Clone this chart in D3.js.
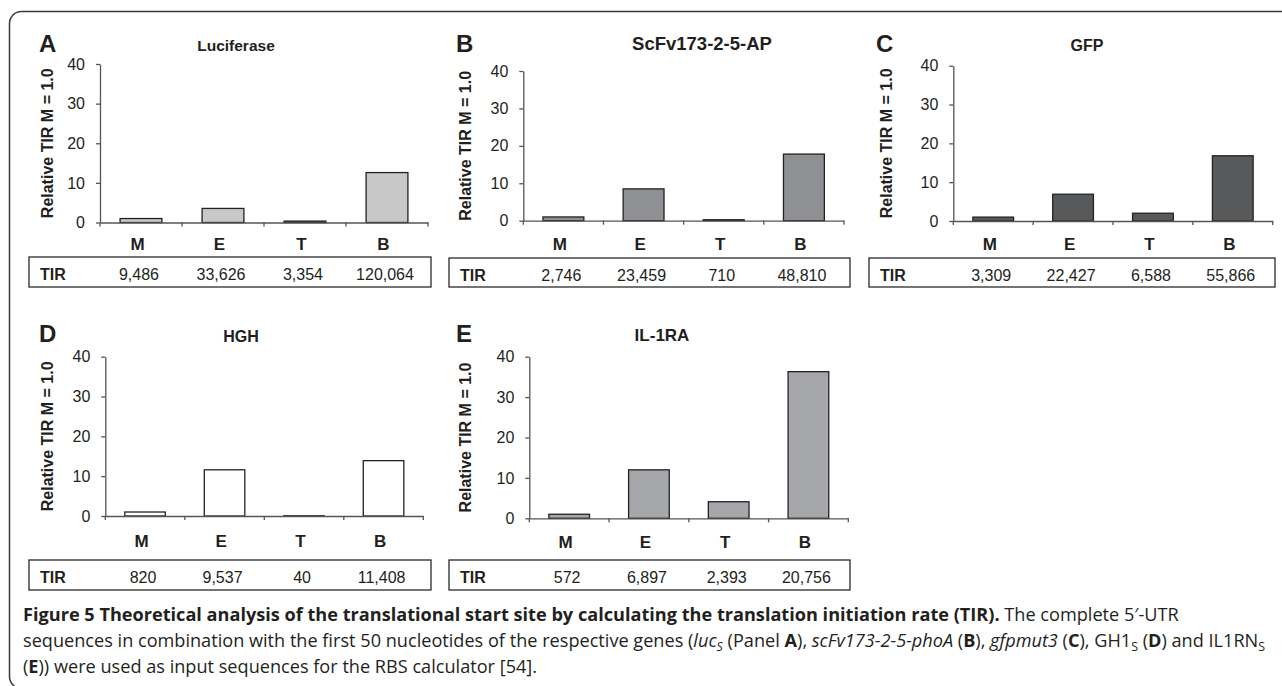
<!DOCTYPE html>
<html><head><meta charset="utf-8">
<script src="https://cdn.jsdelivr.net/npm/d3@7"></script>
<style>html,body{margin:0;padding:0;background:#fff;} svg{display:block;}</style>
</head><body>
<svg id="c" width="1282" height="686"></svg>
<script>
// ---------------- data ----------------
const categories = ["M", "E", "T", "B"];
const panelLetters = ["A", "B", "C", "D", "E"];
const panelTitles = ["Luciferase", "ScFv173-2-5-AP", "GFP", "HGH", "IL-1RA"];
const yTicks = [0, 10, 20, 30, 40];
const yTitle = "Relative TIR M = 1.0";
const tableLabel = "TIR";
// relative TIR (M = 1.0)
const relA = [1.0, 3.55, 0.35, 12.6];
const relB = [1.0, 8.5, 0.26, 17.8];
const relC = [1.0, 6.9, 2.0, 16.8];
const relD = [1.0, 11.6, 0.05, 13.9];
const relE = [1.0, 12.0, 4.1, 36.3];
// absolute TIR values from the tables
const tirA = [9486, 33626, 3354, 120064];
const tirB = [2746, 23459, 710, 48810];
const tirC = [3309, 22427, 6588, 55866];
const tirD = [820, 9537, 40, 11408];
const tirE = [572, 6897, 2393, 20756];

const relSeries = [relA, relB, relC, relD, relE];
const tirSeries = [tirA, tirB, tirC, tirD, tirE];

// ---------------- layout / style ----------------
const layout = [
  {ax:100,   top:64,    base:222.5, right:428,    letterX:39,  letterY:52,  titleX:236,  titleY:51,  titleSize:15.5, ytX:47,  catY:250,   tb:[29,431,257,287],  fill:"#c8c8c8"},
  {ax:523.3, top:71,    base:220.7, right:844,    letterX:456, letterY:52,  titleX:702,  titleY:50,  titleSize:18.5, ytX:465, catY:250,   tb:[449,850,258,287], fill:"#8f9093"},
  {ax:953.3, top:65.7,  base:221,   right:1272.7, letterX:876, letterY:52,  titleX:1087, titleY:51,  titleSize:16,   ytX:886, catY:250,   tb:[869,1275,258,287],fill:"#58595b"},
  {ax:105.3, top:356.7, base:516,   right:423.3,  letterX:39,  letterY:342, titleX:241,  titleY:342, titleSize:16,   ytX:47,  catY:546.5, tb:[29,431,560,590],  fill:"#ffffff"},
  {ax:529.3, top:356.7, base:518.3, right:848.3,  letterX:456, letterY:342, titleX:662,  titleY:341, titleSize:17,   ytX:465, catY:548,   tb:[449,850,560,590], fill:"#a6a7aa"}
];
const FONT = "'Liberation Sans', Arial, Helvetica, sans-serif";
const INK = "#231f20";
const AXIS = "#555";

const svg = d3.select("#c");

// outer frame
svg.append("rect").attr("x", 9.5).attr("y", 11.5).attr("width", 1320).attr("height", 677)
  .attr("rx", 12).attr("ry", 12).attr("fill", "none").attr("stroke", "#3a3a3a").attr("stroke-width", 1.5);

const fmt = d3.format(",");

layout.forEach((L, i) => {
  const g = svg.append("g");
  const x = d3.scaleBand().domain(categories).range([L.ax, L.right]).paddingInner(0.49).paddingOuter(0.245);
  const y = d3.scaleLinear().domain([0, 40]).range([L.base, L.top]);

  // bars
  g.selectAll("rect.bar").data(categories.map((c, k) => ({c, v: relSeries[i][k]})))
    .join("rect").attr("class", "bar")
    .attr("x", d => x(d.c)).attr("width", x.bandwidth())
    .attr("y", d => y(d.v)).attr("height", d => y(0) - y(d.v))
    .attr("fill", L.fill).attr("stroke", "#222").attr("stroke-width", 1.3);

  // y axis
  const ya = g.append("g").attr("transform", `translate(${L.ax},0)`)
    .call(d3.axisLeft(y).tickValues(yTicks).tickSize(4).tickPadding(11).tickSizeOuter(0));
  ya.select(".domain").attr("stroke", AXIS).attr("stroke-width", 1.3);
  ya.selectAll(".tick line").attr("stroke", AXIS).attr("stroke-width", 1.3);
  ya.selectAll(".tick text").attr("font-family", FONT).attr("font-size", 16).attr("fill", INK);

  // x axis: baseline + boundary ticks
  const xa = g.append("g").attr("transform", `translate(0,${L.base})`)
    .call(d3.axisBottom(x).tickSize(0).tickFormat(""));
  xa.select(".domain").attr("stroke", AXIS).attr("stroke-width", 1.3);
  const step = x.step();
  const gap = step - x.bandwidth();
  const bounds = categories.map(c => x(c) - gap / 2).concat([x(categories[categories.length - 1]) + x.bandwidth() + gap / 2]);
  xa.selectAll("line.bt").data(bounds).join("line").attr("class", "bt")
    .attr("x1", d => d).attr("x2", d => d).attr("y1", 0).attr("y2", 4)
    .attr("stroke", AXIS).attr("stroke-width", 1.3);

  // category labels
  g.selectAll("text.cat").data(categories).join("text").attr("class", "cat")
    .attr("x", d => x(d) + x.bandwidth() / 2 - 3.5).attr("y", L.catY)
    .attr("text-anchor", "middle").attr("font-family", FONT).attr("font-weight", "bold")
    .attr("font-size", 17).attr("fill", INK).text(d => d);

  // y title
  g.append("text").attr("transform", `translate(${L.ytX},${(L.top + L.base) / 2}) rotate(-90)`)
    .attr("text-anchor", "middle").attr("dominant-baseline", "central")
    .attr("font-family", FONT).attr("font-weight", "bold").attr("font-size", 16).attr("fill", INK).text(yTitle);

  // panel letter & title
  g.append("text").attr("x", L.letterX).attr("y", L.letterY).attr("font-family", FONT)
    .attr("font-weight", "bold").attr("font-size", 24).attr("fill", INK).text(panelLetters[i]);
  g.append("text").attr("x", L.titleX).attr("y", L.titleY).attr("text-anchor", "middle").attr("font-family", FONT)
    .attr("font-weight", "bold").attr("font-size", L.titleSize).attr("fill", INK).text(panelTitles[i]);

  // table
  const [tx0, tx1, ty0, ty1] = L.tb;
  g.append("rect").attr("x", tx0).attr("y", ty0).attr("width", tx1 - tx0).attr("height", ty1 - ty0)
    .attr("fill", "none").attr("stroke", "#2a2a2a").attr("stroke-width", 1.3);
  const tyText = ty0 + 23;
  g.append("text").attr("x", tx0 + 11).attr("y", tyText).attr("font-family", FONT).attr("font-weight", "bold")
    .attr("font-size", 16).attr("fill", INK).text(tableLabel);
  g.selectAll("text.tv").data(categories.map((c, k) => ({c, v: tirSeries[i][k]}))).join("text").attr("class", "tv")
    .attr("x", d => x(d.c) + x.bandwidth() / 2 - 2).attr("y", tyText).attr("text-anchor", "middle")
    .attr("font-family", FONT).attr("font-size", 16).attr("fill", INK).text(d => fmt(d.v));
});

// ---------------- caption ----------------
const capLines = [
  [{t:"Figure 5 Theoretical analysis of the translational start site by calculating the translation initiation rate (TIR).", b:1},
   {t:" The complete 5\u2032-UTR"}],
  [{t:"sequences in combination with the first 50 nucleotides of the respective genes ("},
   {t:"luc", i:1}, {t:"S", i:1, sub:1}, {t:" (Panel "}, {t:"A", b:1}, {t:"), "},
   {t:"scFv173-2-5-phoA", i:1}, {t:" ("}, {t:"B", b:1}, {t:"), "},
   {t:"gfpmut3", i:1}, {t:" ("}, {t:"C", b:1}, {t:"), GH1"}, {t:"S", sub:1}, {t:" ("}, {t:"D", b:1},
   {t:") and IL1RN"}, {t:"S", sub:1}],
  [{t:"("}, {t:"E", b:1}, {t:")) were used as input sequences for the RBS calculator [54]."}]
];
const capY = [621, 647, 673];
const CAPFONT = "'Open Sans', 'Noto Sans', sans-serif";
const capTexts = capLines.map((parts, li) => {
  const t = svg.append("text").attr("font-family", CAPFONT).attr("font-size", 17.5).attr("fill", INK);
  let shifted = false;
  parts.forEach(p => {
    const ts = t.append("tspan").text(p.t);
    if (p.b) ts.attr("font-weight", "bold");
    if (p.i) ts.attr("font-style", "italic");
    if (p.sub) { ts.attr("font-size", 12); if (!shifted) { ts.attr("dy", 4); shifted = true; } }
    else if (shifted) { ts.attr("dy", -4); shifted = false; }
  });
  return t;
});
const w2 = capTexts[1].node().getComputedTextLength();
const sx = (1266 - 23) / w2;
capTexts.forEach((t, li) => t.attr("transform", `translate(23,${capY[li]}) scale(${sx},1)`));
</script>
</body></html>
